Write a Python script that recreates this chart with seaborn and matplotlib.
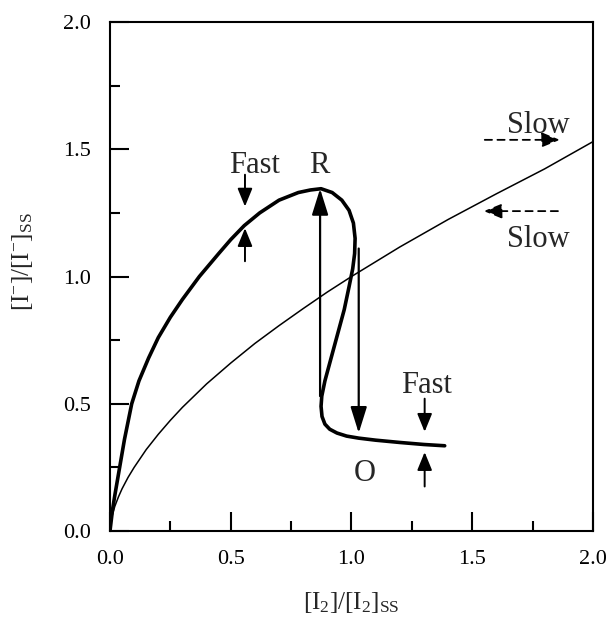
import matplotlib
matplotlib.use("Agg")
import matplotlib.pyplot as plt
import seaborn as sns
import pandas as pd

# ---- data ----
thin_x = [0.0, 0.005, 0.01, 0.02, 0.035, 0.05, 0.075, 0.1, 0.15, 0.2, 0.25, 0.3, 0.4,
          0.5, 0.6, 0.7, 0.8, 0.9, 1.0, 1.2, 1.4, 1.6, 1.8, 2.0]
thin_y = [0.0, 0.042, 0.064, 0.097, 0.134, 0.166, 0.211, 0.25, 0.32, 0.38, 0.435, 0.486,
          0.578, 0.66, 0.737, 0.807, 0.874, 0.939, 1.0, 1.116, 1.224, 1.325, 1.423, 1.53]

thick_x = [0.0, 0.01, 0.02, 0.04, 0.06, 0.09, 0.12, 0.16, 0.2, 0.25, 0.3, 0.37,
           0.45, 0.5, 0.556, 0.62, 0.70, 0.78, 0.83, 0.874, 0.92, 0.96, 0.99, 1.008,
           1.015, 1.013, 1.005, 0.99, 0.97, 0.95, 0.93, 0.91, 0.89, 0.877, 0.874,
           0.878, 0.89, 0.91, 0.94, 0.98, 1.03, 1.10, 1.2, 1.3, 1.386]
thick_y = [0.0, 0.08, 0.14, 0.25, 0.36, 0.5, 0.59, 0.68, 0.76, 0.84, 0.91, 1.0,
           1.09, 1.145, 1.20, 1.25, 1.30, 1.33, 1.34, 1.345, 1.33, 1.30, 1.26, 1.21,
           1.15, 1.09, 1.03, 0.96, 0.87, 0.80, 0.73, 0.66, 0.59, 0.53, 0.49,
           0.45, 0.42, 0.40, 0.385, 0.373, 0.365, 0.357, 0.348, 0.34, 0.335]

# jump arrows (tail -> head)
jump_arrows = [((0.87, 0.53), (0.87, 1.345)),    # up to R
               ((1.03, 1.11), (1.03, 0.385))]    # down to O
# "Fast" indicator arrows (tail -> head)
fast_arrows = [((0.559, 1.40), (0.559, 1.275)),
               ((0.559, 1.06), (0.559, 1.19)),
               ((1.303, 0.52), (1.303, 0.39)),
               ((1.303, 0.175), (1.303, 0.31))]
# "Slow" dashed arrows (tail -> head)
slow_arrows = [((1.552, 1.537), (1.863, 1.537)),
               ((1.855, 1.257), (1.548, 1.257))]

labels = [("Fast", 0.598, 1.435), ("R", 0.867, 1.435), ("Fast", 1.31, 0.57),
          ("O", 1.054, 0.225), ("Slow", 1.772, 1.595), ("Slow", 1.772, 1.145)]

xticks = [0.0, 0.5, 1.0, 1.5, 2.0]
yticks = [0.0, 0.5, 1.0, 1.5, 2.0]
xlabel = r"$[\mathrm{I}_2]/[\mathrm{I}_2]_{\mathrm{SS}}$"
ylabel = r"$[\mathrm{I}^{-}]/[\mathrm{I}^{-}]_{\mathrm{SS}}$"

# ---- styling ----
sns.set_style("ticks")
plt.rcParams["font.family"] = ["Liberation Serif", "DejaVu Serif"]
plt.rcParams["mathtext.fontset"] = "custom"
plt.rcParams["mathtext.rm"] = "Liberation Serif"
plt.rcParams["mathtext.it"] = "Liberation Serif:italic"

fig = plt.figure(figsize=(6.11, 6.20), dpi=100)
ax = fig.add_axes([0.180, 0.1435, 0.7905, 0.821])

thin_df = pd.DataFrame({"x": thin_x, "y": thin_y})
thick_df = pd.DataFrame({"x": thick_x, "y": thick_y})
sns.lineplot(data=thin_df, x="x", y="y", sort=False, estimator=None,
             color="black", lw=1.1, ax=ax)
sns.lineplot(data=thick_df, x="x", y="y", sort=False, estimator=None,
             color="black", lw=2.6, ax=ax)

for (t, h) in jump_arrows:
    ax.annotate("", xy=h, xytext=t,
                arrowprops=dict(arrowstyle="-|>,head_length=1.6,head_width=0.5",
                                color="black", lw=1.6, shrinkA=0, shrinkB=0,
                                mutation_scale=10))
for (t, h) in fast_arrows:
    ax.annotate("", xy=h, xytext=t,
                arrowprops=dict(arrowstyle="-|>,head_length=1.1,head_width=0.45",
                                color="black", lw=1.4, shrinkA=0, shrinkB=0,
                                mutation_scale=10))
for (t, h) in slow_arrows:
    ax.annotate("", xy=h, xytext=t,
                arrowprops=dict(arrowstyle="-|>,head_length=1.1,head_width=0.45",
                                color="black", lw=1.3, ls=(0, (4, 3)),
                                shrinkA=0, shrinkB=0, mutation_scale=10))

for txt, x, y in labels:
    ax.text(x, y, txt, ha="center", va="center", fontsize=22)

ax.set_xlim(0, 2.0)
ax.set_ylim(0, 2.0)
ax.set_xticks(xticks)
ax.set_yticks(yticks)
ax.set_xticklabels([f"{v:.1f}" for v in xticks])
ax.set_yticklabels([f"{v:.1f}" for v in yticks])
ax.set_xticks([0.25, 0.75, 1.25, 1.75], minor=True)
ax.set_yticks([0.25, 0.75, 1.25, 1.75], minor=True)
ax.tick_params(which="both", direction="in", top=False, right=False,
               width=1.5, labelsize=16, colors="black")
ax.tick_params(which="major", length=14, pad=14)
ax.tick_params(which="minor", length=7.5)
for s in ax.spines.values():
    s.set_visible(True)
    s.set_linewidth(1.5)
    s.set_color("black")

ax.set_xlabel(xlabel, fontsize=18, labelpad=15)
ax.set_ylabel(ylabel, fontsize=18, labelpad=20)
ax.yaxis.set_label_coords(-0.155, 0.53)

fig.savefig("out.png", dpi=100)
